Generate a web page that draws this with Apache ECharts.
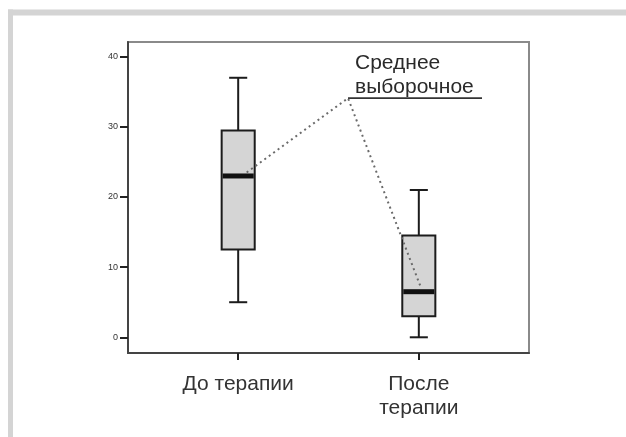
<!DOCTYPE html>
<html>
<head>
<meta charset="utf-8">
<script src="https://cdn.jsdelivr.net/npm/echarts@6/dist/echarts.min.js"></script>
<style>
  html, body { margin: 0; padding: 0; background: #fff; }
  #chart { width: 626px; height: 437px; }
</style>
</head>
<body>
<div id="chart"></div>
<script>
// Groups along the horizontal axis (positions 1 and 2)
const categories = ['До терапии', 'После\nтерапии'];
const groupPositions = [1, 2];

// Five-number summaries: [min, Q1, median, Q3, max]
const beforeTherapy = [5, 12.5, 23, 29.5, 37];
const afterTherapy = [0, 3, 6.5, 14.5, 21];

// Vertical axis tick values
const yTicks = [0, 10, 20, 30, 40];

// Callout: text and the pointer path (end on first median, bend, end on second median)
const calloutLines = ['Среднее', 'выборочное'];
const calloutPath = [[1.047, 23.5], [1.608, 34.1], [2.007, 7.4]];

const boxData = [
  [groupPositions[0]].concat(beforeTherapy),
  [groupPositions[1]].concat(afterTherapy)
];

const FONT = '"Liberation Sans", Arial, sans-serif';
const BOX_W = 0.183;   // box width in axis units
const CAP_W = 0.1;     // whisker cap width in axis units
const INK = '#1c1c1c';

function renderBox(params, api) {
  const x = api.value(0);
  const pMin = api.coord([x, api.value(1)]);
  const pQ1 = api.coord([x, api.value(2)]);
  const pMed = api.coord([x, api.value(3)]);
  const pQ3 = api.coord([x, api.value(4)]);
  const pMax = api.coord([x, api.value(5)]);
  const half = api.size([BOX_W, 0])[0] / 2;
  const capHalf = api.size([CAP_W, 0])[0] / 2;
  const cx = pMed[0];
  const lineStyle = { stroke: INK, lineWidth: 2, fill: null };
  return {
    type: 'group',
    children: [
      { type: 'line', shape: { x1: cx, y1: pMax[1], x2: cx, y2: pQ3[1] }, style: lineStyle },
      { type: 'line', shape: { x1: cx, y1: pQ1[1], x2: cx, y2: pMin[1] }, style: lineStyle },
      { type: 'line', shape: { x1: cx - capHalf, y1: pMax[1], x2: cx + capHalf, y2: pMax[1] }, style: lineStyle },
      { type: 'line', shape: { x1: cx - capHalf, y1: pMin[1], x2: cx + capHalf, y2: pMin[1] }, style: lineStyle },
      { type: 'rect', shape: { x: cx - half, y: pQ3[1], width: half * 2, height: pQ1[1] - pQ3[1] },
        style: { fill: '#d5d5d5', stroke: INK, lineWidth: 2 } },
      { type: 'rect', shape: { x: cx - half + 1, y: pMed[1] - 2.5, width: half * 2 - 2, height: 5 },
        style: { fill: '#111' } }
    ]
  };
}

const chart = echarts.init(document.getElementById('chart'), null, { renderer: 'canvas' });

chart.setOption({
  animation: false,
  backgroundColor: '#fff',
  grid: {
    left: 128, right: 97, top: 42, bottom: 84,
    show: true, borderColor: '#8a8a8a', borderWidth: 2, backgroundColor: 'transparent'
  },
  xAxis: {
    type: 'value',
    min: 0.39, max: 2.61,
    splitLine: { show: false },
    axisLine: { show: true, onZero: false, lineStyle: { color: '#444', width: 2 } },
    axisTick: { show: true, customValues: groupPositions, length: 7, lineStyle: { color: '#222', width: 2 } },
    axisLabel: {
      customValues: groupPositions,
      formatter: v => categories[groupPositions.indexOf(v)] || '',
      fontFamily: FONT, fontSize: 21, lineHeight: 24, color: '#333', margin: 19
    }
  },
  yAxis: {
    type: 'value',
    min: -2.24, max: 42.1,
    splitLine: { show: false },
    axisLine: { show: true, onZero: false, lineStyle: { color: '#444', width: 2 } },
    axisTick: { show: true, customValues: yTicks, length: 8, lineStyle: { color: '#222', width: 2 } },
    axisLabel: { customValues: yTicks, fontFamily: FONT, fontSize: 9, color: '#333', margin: 10 }
  },
  series: [
    {
      type: 'custom',
      renderItem: renderBox,
      encode: { x: 0, y: [1, 2, 3, 4, 5] },
      data: boxData,
      z: 2
    },
    {
      type: 'line',
      data: calloutPath,
      symbol: 'none',
      lineStyle: { color: '#6a6a6a', width: 2, type: [2, 3.5] },
      z: 3
    }
  ]
});

// Callout label placed at the bend of the pointer, with its underline
const bend = chart.convertToPixel({ gridIndex: 0 }, calloutPath[1]);
chart.setOption({
  graphic: [
    { type: 'rect', shape: { x: 8, y: 9.5, width: 618, height: 6 }, style: { fill: '#d4d4d4' }, silent: true },
    { type: 'rect', shape: { x: 8, y: 9.5, width: 5, height: 428 }, style: { fill: '#d4d4d4' }, silent: true },
    {
      type: 'text',
      x: bend[0] + 7, y: bend[1] + 1,
      style: {
        text: calloutLines.join('\n'),
        font: '21px ' + FONT, lineHeight: 24, fill: '#2a2a2a',
        textAlign: 'left', textVerticalAlign: 'bottom'
      }
    },
    {
      type: 'line',
      shape: { x1: bend[0], y1: bend[1], x2: bend[0] + 134, y2: bend[1] },
      style: { stroke: '#333', lineWidth: 1.6 }
    }
  ]
});
</script>
</body>
</html>
